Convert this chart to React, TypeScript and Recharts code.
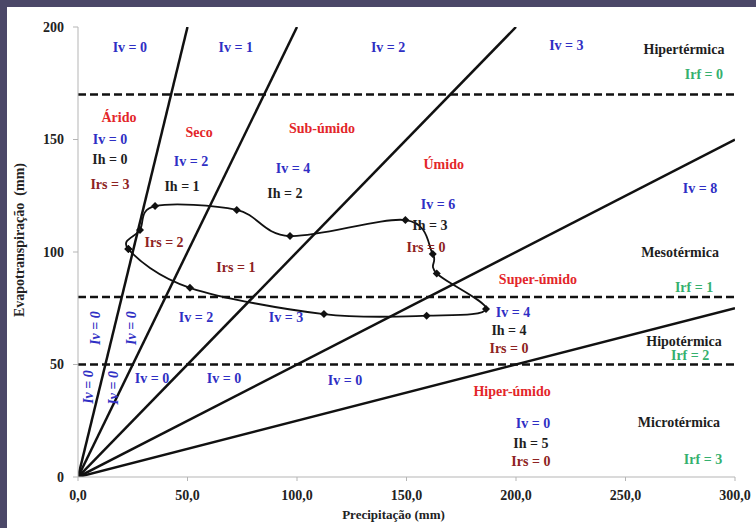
import React from 'react';
import {
  ComposedChart,
  Line,
  Scatter,
  XAxis,
  YAxis,
  ReferenceLine,
} from 'recharts';

// limits of the plot (mm)
const xTicks = [0, 50, 100, 150, 200, 250, 300];
const yTicks = [0, 50, 100, 150, 200];

// P / ETP ratios of the boundary lines drawn from the origin
const boundarySlopes = [4, 2, 1, 0.5, 0.25];

// thermal limits (mm)
const thermalLimits = [170, 80, 50];

// monthly climate points, precipitation vs evapotranspiration (closed loop)
const monthP = [23, 28.3, 35.2, 72.5, 96.8, 149.5, 162, 163.8, 186.3, 159.2, 112.3, 51.1];
const monthETP = [101.3, 109.8, 120.4, 118.7, 107.1, 114.2, 99.1, 90.5, 74.7, 71.7, 72.4, 84.1];

type Kind = 'iv' | 'ivRot' | 'ih' | 'irs' | 'clim' | 'term' | 'irf';

// region annotations, anchored in data units
const labels: { text: string; x: number; y: number; kind: Kind }[] = [
  { text: 'Iv = 0', x: 23.7, y: 191, kind: 'iv' },
  { text: 'Iv = 1', x: 72, y: 191, kind: 'iv' },
  { text: 'Iv = 2', x: 141.6, y: 191, kind: 'iv' },
  { text: 'Iv = 3', x: 223, y: 192, kind: 'iv' },
  { text: 'Hipertérmica', x: 276.7, y: 189.8, kind: 'term' },
  { text: 'Irf = 0', x: 285.8, y: 179, kind: 'irf' },
  { text: 'Árido', x: 18.7, y: 160, kind: 'clim' },
  { text: 'Iv = 0', x: 14.6, y: 150.2, kind: 'iv' },
  { text: 'Ih = 0', x: 14.6, y: 141, kind: 'ih' },
  { text: 'Irs = 3', x: 14.6, y: 130, kind: 'irs' },
  { text: 'Seco', x: 55.3, y: 153, kind: 'clim' },
  { text: 'Iv = 2', x: 51.6, y: 140.4, kind: 'iv' },
  { text: 'Ih = 1', x: 47.5, y: 128.9, kind: 'ih' },
  { text: 'Sub-úmido', x: 111.4, y: 154.7, kind: 'clim' },
  { text: 'Iv = 4', x: 98.2, y: 136.9, kind: 'iv' },
  { text: 'Ih = 2', x: 94.5, y: 125.8, kind: 'ih' },
  { text: 'Úmido', x: 167, y: 138.7, kind: 'clim' },
  { text: 'Iv = 6', x: 164.4, y: 120.9, kind: 'iv' },
  { text: 'Ih = 3', x: 160.7, y: 111.6, kind: 'ih' },
  { text: 'Irs = 0', x: 158.9, y: 102.2, kind: 'irs' },
  { text: 'Iv = 8', x: 284, y: 128.4, kind: 'iv' },
  { text: 'Mesotérmica', x: 274.9, y: 100, kind: 'term' },
  { text: 'Irs = 2', x: 39.3, y: 104.4, kind: 'irs' },
  { text: 'Irs = 1', x: 72.1, y: 92.9, kind: 'irs' },
  { text: 'Super-úmido', x: 210, y: 87.6, kind: 'clim' },
  { text: 'Irf = 1', x: 281.3, y: 84.4, kind: 'irf' },
  { text: 'Iv = 2', x: 53.9, y: 71.1, kind: 'iv' },
  { text: 'Iv = 3', x: 95, y: 71.1, kind: 'iv' },
  { text: 'Iv = 4', x: 198.6, y: 73.3, kind: 'iv' },
  { text: 'Ih = 4', x: 196.8, y: 65.3, kind: 'ih' },
  { text: 'Irs = 0', x: 196.8, y: 57.3, kind: 'irs' },
  { text: 'Hipotérmica', x: 276.7, y: 60.4, kind: 'term' },
  { text: 'Irf = 2', x: 279.5, y: 53.8, kind: 'irf' },
  { text: 'Iv = 0', x: 33.8, y: 44, kind: 'iv' },
  { text: 'Iv = 0', x: 66.7, y: 44, kind: 'iv' },
  { text: 'Iv = 0', x: 121.9, y: 43.1, kind: 'iv' },
  { text: 'Hiper-úmido', x: 198.2, y: 37.8, kind: 'clim' },
  { text: 'Iv = 0', x: 207.8, y: 23.6, kind: 'iv' },
  { text: 'Ih = 5', x: 206.8, y: 15.1, kind: 'ih' },
  { text: 'Irs = 0', x: 206.8, y: 6.7, kind: 'irs' },
  { text: 'Microtérmica', x: 274.4, y: 24.4, kind: 'term' },
  { text: 'Irf = 3', x: 285.4, y: 7.6, kind: 'irf' },
  { text: 'Iv = 0', x: 7.8, y: 66.2, kind: 'ivRot' },
  { text: 'Iv = 0', x: 24.5, y: 66.2, kind: 'ivRot' },
  { text: 'Iv = 0', x: 4.6, y: 40, kind: 'ivRot' },
  { text: 'Iv = 0', x: 16, y: 39.6, kind: 'ivRot' },
];

const colors: Record<Kind, string> = {
  iv: '#2f2fc4',
  ivRot: '#2f2fc4',
  ih: '#1e1e1e',
  irs: '#8e2222',
  clim: '#e3262a',
  term: '#1e1e1e',
  irf: '#35b06e',
};

const FONT = '"Liberation Serif", "Times New Roman", serif';
const X_MAX = 300;
const Y_MAX = 200;

const boundaryLines = boundarySlopes.map(s => {
  const xEnd = Math.min(X_MAX, Y_MAX / s);
  return [
    { x: 0, y: 0 },
    { x: xEnd, y: xEnd * s },
  ];
});

const loop = monthP.map((p, i) => ({ x: p, y: monthETP[i] }));
const loopClosed = [...loop, loop[0]];

// Catmull-Rom smoothing like Excel's smoothed line, wrapping round when closed
const smoothClosed = (context: any) => {
  let pts: [number, number][] = [];
  return {
    areaStart() {},
    areaEnd() {},
    lineStart() {
      pts = [];
    },
    point(x: number, y: number) {
      pts.push([x, y]);
    },
    lineEnd() {
      const n = pts.length;
      if (!n) return;
      const closed = n > 2 && pts[0][0] === pts[n - 1][0] && pts[0][1] === pts[n - 1][1];
      const at = (i: number) => {
        if (closed) {
          const m = n - 1;
          return pts[((i % m) + m) % m];
        }
        return pts[Math.max(0, Math.min(n - 1, i))];
      };
      context.moveTo(pts[0][0], pts[0][1]);
      for (let i = 0; i < n - 1; i++) {
        const p0 = at(i - 1);
        const p1 = pts[i];
        const p2 = pts[i + 1];
        const p3 = at(i + 2);
        const t = 1 / 6;
        context.bezierCurveTo(
          p1[0] + (p2[0] - p0[0]) * t,
          p1[1] + (p2[1] - p0[1]) * t,
          p2[0] - (p3[0] - p1[0]) * t,
          p2[1] - (p3[1] - p1[1]) * t,
          p2[0],
          p2[1]
        );
      }
    },
  };
};

const Diamond = (props: any) => {
  const { cx, cy, index } = props;
  if (cx == null || cy == null) return <g key={index} />;
  const r = 4;
  return (
    <polygon
      key={index}
      points={`${cx},${cy - r} ${cx + r},${cy} ${cx},${cy + r} ${cx - r},${cy}`}
      fill="#111"
    />
  );
};

const LabelShape = (props: any) => {
  const { cx, cy, payload } = props;
  const rot = payload.kind === 'ivRot';
  return (
    <text
      x={cx}
      y={cy}
      textAnchor="middle"
      dominantBaseline="central"
      fontFamily={FONT}
      fontWeight="bold"
      fontStyle={rot ? 'italic' : 'normal'}
      fontSize={14}
      fill={colors[payload.kind as Kind]}
      transform={rot ? `rotate(-90 ${cx} ${cy})` : undefined}
    >
      {payload.text}
    </text>
  );
};

export default function App() {
  const tickStyle = { fontFamily: FONT, fontWeight: 'bold', fontSize: 14, fill: '#222' };
  return (
    <div style={{ position: 'absolute', left: 0, top: 0, width: 756, height: 528, background: '#4b4868' }}>
      <div style={{ position: 'absolute', left: 7, top: 7, right: 0, bottom: 0, background: '#fff' }} />
      <div style={{ position: 'absolute', left: 0, top: 0 }}>
        <ComposedChart width={756} height={528} margin={{ top: 27, right: 21, bottom: 21, left: 0 }}>
          <XAxis
            type="number"
            dataKey="x"
            domain={[0, X_MAX]}
            ticks={xTicks}
            allowDataOverflow
            tickFormatter={v => v.toFixed(1).replace('.', ',')}
            tick={tickStyle}
            stroke="#b5b5b5"
            tickSize={4}
            tickMargin={9}
            height={30}
            label={{
              content: (p: any) => (
                <text
                  x={p.viewBox.x + p.viewBox.width / 2 - 13}
                  y={p.viewBox.y + 42}
                  textAnchor="middle"
                  fontFamily={FONT}
                  fontWeight="bold"
                  fontSize={13}
                  fill="#222"
                >
                  Precipitação (mm)
                </text>
              ),
            }}
          />
          <XAxis xAxisId="top" orientation="top" type="number" domain={[0, X_MAX]} tick={false} tickLine={false} height={0} stroke="#c8c8c8" />
          <YAxis
            type="number"
            dataKey="y"
            domain={[0, Y_MAX]}
            ticks={yTicks}
            allowDataOverflow
            tick={tickStyle}
            stroke="#b5b5b5"
            tickSize={5}
            tickMargin={9}
            width={78}
            label={{
              content: (p: any) => {
                const x = p.viewBox.x + 19;
                const y = p.viewBox.y + p.viewBox.height / 2 - 12;
                return (
                  <text
                    x={x}
                    y={y}
                    textAnchor="middle"
                    dominantBaseline="central"
                    fontFamily={FONT}
                    fontWeight="bold"
                    fontSize={14}
                    fill="#222"
                    transform={`rotate(-90 ${x} ${y})`}
                    style={{ whiteSpace: 'pre' }}
                  >
                    {'Evapotranspiração  (mm)'}
                  </text>
                );
              },
            }}
          />
          <YAxis yAxisId="right" orientation="right" type="number" domain={[0, Y_MAX]} tick={false} tickLine={false} width={0} stroke="#c8c8c8" />

          {thermalLimits.map(v => (
            <ReferenceLine key={v} y={v} stroke="#111" strokeWidth={2.5} strokeDasharray="8 4" />
          ))}

          {boundaryLines.map((d, i) => (
            <Line
              key={i}
              data={d}
              dataKey="y"
              type="linear"
              stroke="#111"
              strokeWidth={2.5}
              dot={false}
              activeDot={false}
              isAnimationActive={false}
            />
          ))}

          <Line
            data={loopClosed}
            dataKey="y"
            type={smoothClosed as any}
            stroke="#111"
            strokeWidth={1.8}
            dot={Diamond}
            activeDot={false}
            isAnimationActive={false}
          />

          <Scatter data={labels} dataKey="y" shape={LabelShape} isAnimationActive={false} />
        </ComposedChart>
      </div>
    </div>
  );
}
